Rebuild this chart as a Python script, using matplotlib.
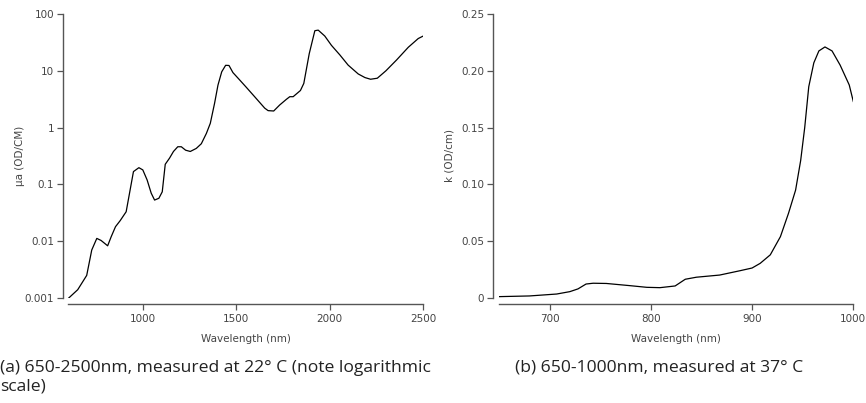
import matplotlib
matplotlib.use("Agg")
import matplotlib.pyplot as plt

# Absorption of water, 600-2500 nm (log scale)
wl_a = [604, 652, 700, 727, 754, 777, 812, 831, 854, 879, 911, 950, 979, 1000,
        1023, 1045, 1063, 1086, 1104, 1120, 1143, 1164, 1187, 1206, 1229, 1254,
        1286, 1313, 1340, 1361, 1384, 1402, 1422, 1443, 1461, 1482, 1518, 1554,
        1598, 1652, 1670, 1700, 1732, 1768, 1786, 1804, 1843, 1861, 1890, 1920,
        1938, 1973, 2009, 2054, 2098, 2152, 2188, 2218, 2254, 2300, 2357, 2420,
        2473, 2500]
mua = [0.001, 0.0014, 0.0025, 0.007, 0.0112, 0.0103, 0.0083, 0.012, 0.018,
       0.023, 0.033, 0.168, 0.197, 0.18, 0.12, 0.07, 0.053, 0.057, 0.074, 0.226,
       0.29, 0.38, 0.46, 0.46, 0.40, 0.38, 0.43, 0.52, 0.79, 1.19, 2.7, 5.6,
       9.6, 12.5, 12.4, 9.3, 6.9, 5.1, 3.5, 2.2, 1.99, 1.96, 2.5, 3.15, 3.5,
       3.5, 4.5, 6.0, 20, 50.8, 52, 41, 28, 19, 12.6, 8.8, 7.6, 7.1, 7.4, 10,
       15.5, 26, 37, 41]

# Absorption of water, 650-1000 nm (linear scale)
wl_b = [650, 680, 707, 720, 728, 736, 743, 756, 779, 796, 809, 824, 834, 845,
        868, 888, 900, 908, 918, 928, 936, 943, 948, 952, 956, 961, 966, 972,
        979, 987, 996, 1000]
k = [0.0012, 0.0018, 0.0035, 0.0056, 0.008, 0.0123, 0.013, 0.0128, 0.0109,
     0.0094, 0.0091, 0.0106, 0.0165, 0.0183, 0.0202, 0.024, 0.0264, 0.0305,
     0.038, 0.054, 0.0746, 0.095, 0.121, 0.150, 0.186, 0.207, 0.2175, 0.221,
     0.2175, 0.205, 0.1875, 0.173]

ticks_a_x = [1000, 1500, 2000, 2500]
ticks_a_y = [0.001, 0.01, 0.1, 1, 10, 100]
labels_a_y = ["0.001", "0.01", "0.1", "1", "10", "100"]
ticks_b_x = [700, 800, 900, 1000]
ticks_b_y = [0, 0.05, 0.10, 0.15, 0.20, 0.25]
labels_b_y = ["0", "0.05", "0.10", "0.15", "0.20", "0.25"]

caption_a = "(a) 650-2500nm, measured at 22° C (note logarithmic\nscale)"
caption_b = "(b) 650-1000nm, measured at 37° C"

W, H = 866, 403
fig = plt.figure(figsize=(W / 100, H / 100), dpi=100)

tick_color = "#444444"
spine_color = "#555555"


def style(ax, xoff, yoff):
    for s in ("top", "right"):
        ax.spines[s].set_visible(False)
    ax.spines["left"].set_position(("outward", xoff))
    ax.spines["bottom"].set_position(("outward", yoff))
    for s in ("left", "bottom"):
        ax.spines[s].set_color(spine_color)
        ax.spines[s].set_linewidth(1.0)
    ax.tick_params(axis="both", direction="out", length=4.3, width=0.9,
                   color=spine_color, labelcolor=tick_color, labelsize=7.5)
    ax.tick_params(axis="x", pad=3)
    ax.tick_params(axis="y", pad=2)
    ax.minorticks_off()


# left panel
ax1 = fig.add_axes([68 / W, 1 - 298 / H, (423.3 - 68) / W, 284 / H])
ax1.plot(wl_a, mua, color="black", lw=0.9)
ax1.set_yscale("log")
ax1.set_xlim(600, 2500)
ax1.set_ylim(0.001, 100)
ax1.set_xticks(ticks_a_x)
ax1.set_yticks(ticks_a_y)
ax1.set_yticklabels(labels_a_y)
style(ax1, 3.6, 4.3)
ax1.set_xlabel("Wavelength (nm)", fontsize=7.5, color=tick_color)
ax1.set_ylabel("μa (OD/CM)", fontsize=7.5, color=tick_color)
ax1.xaxis.set_label_coords((246 - 68) / 355.3, (298 - 334) / 284)
ax1.yaxis.set_label_coords((25 - 68) / 355.3, 0.5)

# right panel
ax2 = fig.add_axes([499 / W, 1 - 298 / H, (853.3 - 499) / W, 284 / H])
ax2.plot(wl_b, k, color="black", lw=0.9)
ax2.set_xlim(650, 1000)
ax2.set_ylim(0, 0.25)
ax2.set_xticks(ticks_b_x)
ax2.set_yticks(ticks_b_y)
ax2.set_yticklabels(labels_b_y)
style(ax2, 4.3, 4.3)
ax2.set_xlabel("Wavelength (nm)", fontsize=7.5, color=tick_color)
ax2.set_ylabel("k (OD/cm)", fontsize=7.5, color=tick_color)
ax2.xaxis.set_label_coords(0.5, (298 - 334) / 284)
ax2.yaxis.set_label_coords((454 - 499) / 354.3, 0.5)

# captions
fig.text(0 / W, 1 - 360 / H, caption_a, fontsize=12.6, family="Open Sans",
         color="#222222", va="top", ha="left", linespacing=1.2)
fig.text(515 / W, 1 - 360 / H, caption_b, fontsize=12.6, family="Open Sans",
         color="#222222", va="top", ha="left")

fig.savefig("out.png", dpi=100)
